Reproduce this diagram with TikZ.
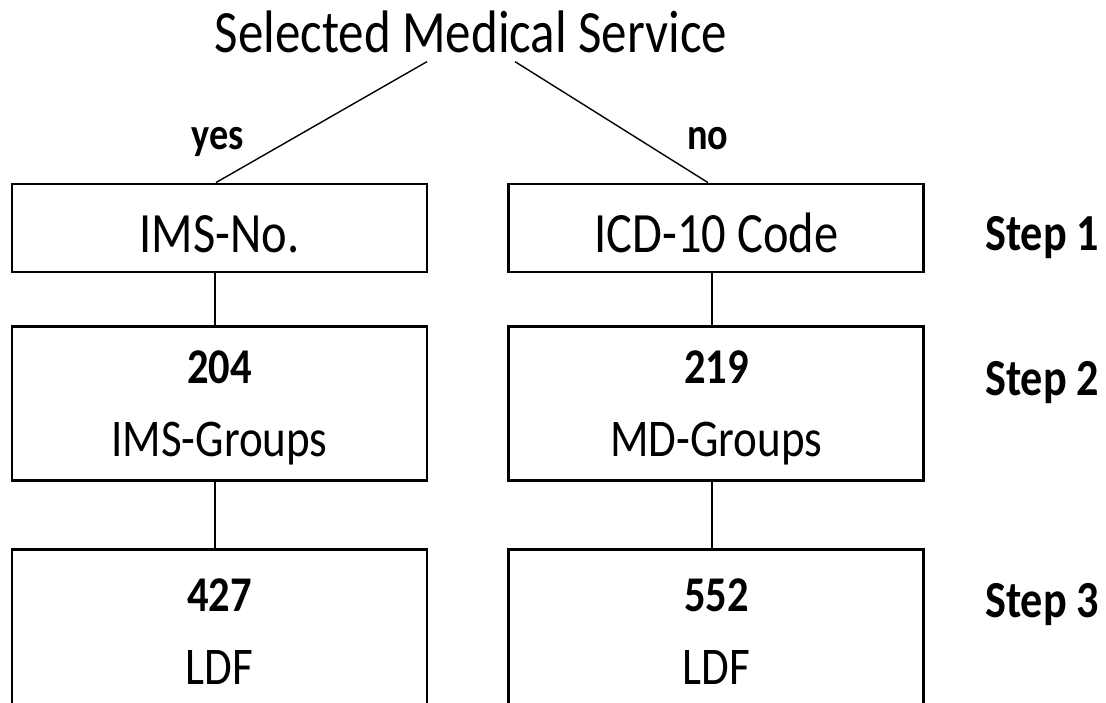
\documentclass[tikz,border=0pt]{standalone}
\usepackage{fontspec}
\setmainfont{Carlito}[FakeStretch=0.85]
\usetikzlibrary{positioning,calc}

\begin{document}
\begin{tikzpicture}[
  x=1pt, y=-1pt,
  node distance=52pt and 79pt,
  box/.style={rectangle, draw, line width=2.9pt, align=center, minimum width=415pt, inner sep=0pt},
  onebox/.style={box, minimum height=88pt, text height=48pt, text depth=0pt, font=\fontsize{57}{68}\selectfont},
  twobox/.style={box, font=\fontsize{53}{73}\selectfont, text depth=0pt},
  title/.style={font=\fontsize{60}{72}\selectfont, inner sep=9pt},
  branch/.style={font=\fontsize{45}{54}\selectfont\bfseries, inner sep=0pt},
  steplabel/.style={font=\fontsize{52}{62}\selectfont\bfseries, inner sep=0pt},
  link/.style={line width=1.4pt}
]
  \useasboundingbox (0,0) rectangle (1106,702);
  \clip (0,0) rectangle (1106,702);
  % top question
  \node[title, anchor=base] (title) at (471,52) {Selected Medical Service};
  % step 1
  \node[onebox] (ims) at (219.5,228) {IMS-No.};
  \node[onebox, right=of ims] (icd) {ICD-10 Code};
  % step 2
  \node[twobox, minimum height=154pt, below=of ims] (imsg) {{\fontsize{50}{73}\selectfont\bfseries 204}\\IMS-Groups};
  \node[twobox, minimum height=154pt, below=of icd] (mdg) {{\fontsize{50}{73}\selectfont\bfseries 219}\\MD-Groups};
  % step 3 (cut off at the bottom)
  \node[twobox, minimum height=164pt, below=66pt of imsg] (ldfa) {{\fontsize{50}{73}\selectfont\bfseries 427}\\LDF};
  \node[twobox, minimum height=164pt, below=66pt of mdg] (ldfb) {{\fontsize{50}{73}\selectfont\bfseries 552}\\LDF};
  % branches
  \node[branch, anchor=base] (yes) at ([xshift=-1.5pt, yshift=33pt]ims.north) {yes};
  \node[branch, anchor=base] (no) at ([xshift=-8.5pt, yshift=33pt]icd.north) {no};
  \draw[link] ([xshift=-44pt]title.south) -- ([xshift=-3.5pt]ims.north);
  \draw[link] ([xshift=44pt]title.south) -- ([xshift=-8.5pt]icd.north);
  \draw[link] ([xshift=-4.5pt]ims.south) -- ([xshift=-4.5pt]imsg.north);
  \draw[link] ([xshift=-4.5pt]icd.south) -- ([xshift=-4.5pt]mdg.north);
  \draw[link] ([xshift=-4.5pt]imsg.south) -- ([xshift=-4.5pt]ldfa.north);
  \draw[link] ([xshift=-4.5pt]mdg.south) -- ([xshift=-4.5pt]ldfb.north);
  % step labels
  \node[steplabel, anchor=base west] (step1) at (985,250) {Step 1};
  \node[steplabel, anchor=base west] (step2) at (985,395) {Step 2};
  \node[steplabel, anchor=base west] (step3) at (985,617) {Step 3};
\end{tikzpicture}
\end{document}
